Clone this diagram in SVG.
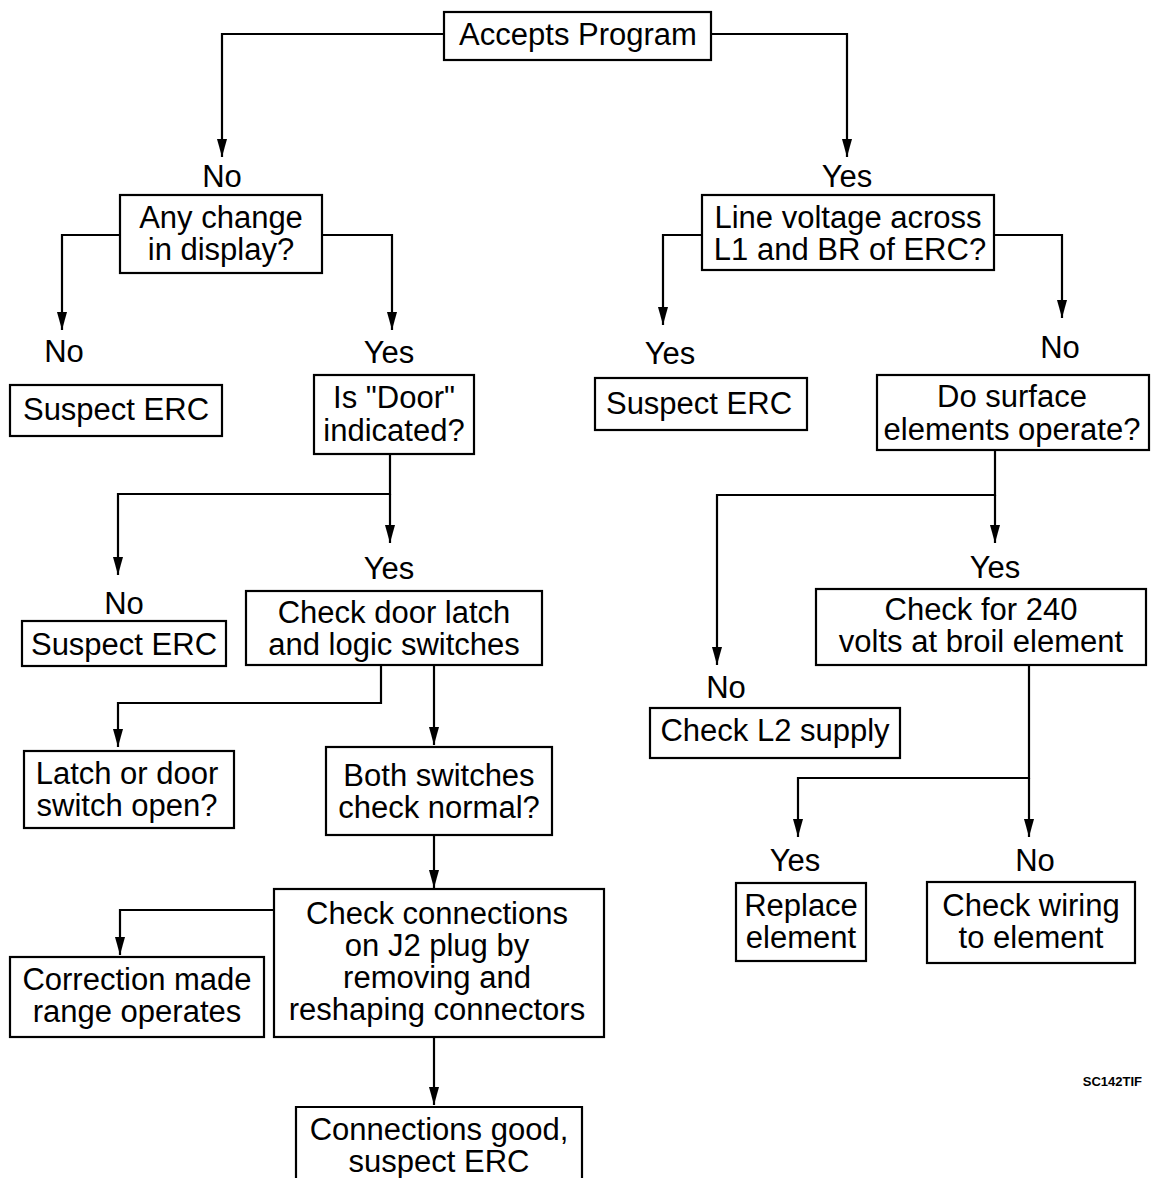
<svg xmlns="http://www.w3.org/2000/svg" width="1151" height="1178" viewBox="0 0 1151 1178">
<style>
.box{fill:#fff;stroke:#000;stroke-width:2.2}
.t{font-family:"Liberation Sans",Arial,Helvetica,sans-serif;font-size:31px;fill:#000;text-anchor:middle}
.lbl{font-family:"Liberation Sans",Arial,Helvetica,sans-serif;font-size:31px;fill:#000;text-anchor:middle}
.c{fill:none;stroke:#000;stroke-width:2.2;marker-end:url(#ah)}
.cn{fill:none;stroke:#000;stroke-width:2.2}
.code{font-family:"Liberation Sans",Arial,sans-serif;font-size:13px;font-weight:bold;fill:#000;text-anchor:end}
</style>
<defs>
<marker id="ah" viewBox="0 0 18 10" refX="18" refY="5" markerWidth="18" markerHeight="10" markerUnits="userSpaceOnUse" orient="auto">
<path d="M0,0 L18,5 L0,10 z" fill="#000"/>
</marker>
</defs>
<rect width="1151" height="1178" fill="#fff"/>
<g id="connectors">
<path class="c" d="M444,34 H222 V157"/>
<path class="c" d="M711,34 H847 V157"/>
<path class="c" d="M120,235 H62 V330"/>
<path class="c" d="M322,235 H392 V330"/>
<path class="c" d="M390,454 V494 H118 V575"/>
<path class="c" d="M390,494 V543"/>
<path class="c" d="M702,235 H663 V325"/>
<path class="c" d="M994,235 H1062 V318"/>
<path class="c" d="M995,450 V495 H717 V665"/>
<path class="c" d="M995,495 V543"/>
<path class="c" d="M381,665 V703 H118 V747"/>
<path class="c" d="M434,665 V745"/>
<path class="c" d="M434,835 V888"/>
<path class="c" d="M274,910 H120 V955"/>
<path class="c" d="M434,1037 V1105"/>
<path class="c" d="M1029,665 V778 H798 V837"/>
<path class="c" d="M1029,778 V837"/>
</g>
<g id="labels">
<text class="lbl" x="222" y="187">No</text>
<text class="lbl" x="847" y="187">Yes</text>
<text class="lbl" x="64" y="362">No</text>
<text class="lbl" x="389" y="363">Yes</text>
<text class="lbl" x="670" y="364">Yes</text>
<text class="lbl" x="1060" y="358">No</text>
<text class="lbl" x="124" y="614">No</text>
<text class="lbl" x="389" y="579">Yes</text>
<text class="lbl" x="995" y="578">Yes</text>
<text class="lbl" x="726" y="698">No</text>
<text class="lbl" x="795" y="871">Yes</text>
<text class="lbl" x="1035" y="871">No</text>
</g>
<g id="n-accepts">
<rect class="box" x="444" y="12" width="267" height="48"/>
<text class="t" x="578" y="45">Accepts Program</text>
</g>
<g id="n-anychange">
<rect class="box" x="120" y="195" width="202" height="78"/>
<text class="t" x="221" y="228">Any change</text>
<text class="t" x="221" y="260">in display?</text>
</g>
<g id="n-suspect1">
<rect class="box" x="10" y="385" width="212" height="51"/>
<text class="t" x="116" y="420">Suspect ERC</text>
</g>
<g id="n-door">
<rect class="box" x="314" y="375" width="160" height="79"/>
<text class="t" x="394" y="408">Is "Door"</text>
<text class="t" x="394" y="441">indicated?</text>
</g>
<g id="n-suspect2">
<rect class="box" x="22" y="621" width="204" height="45"/>
<text class="t" x="124" y="655">Suspect ERC</text>
</g>
<g id="n-checklatch">
<rect class="box" x="246" y="591" width="296" height="74"/>
<text class="t" x="394" y="623">Check door latch</text>
<text class="t" x="394" y="655">and logic switches</text>
</g>
<g id="n-latchopen">
<rect class="box" x="24" y="751" width="210" height="77"/>
<text class="t" x="127" y="784">Latch or door</text>
<text class="t" x="127" y="816">switch open?</text>
</g>
<g id="n-both">
<rect class="box" x="326" y="747" width="226" height="88"/>
<text class="t" x="439" y="786">Both switches</text>
<text class="t" x="439" y="818">check normal?</text>
</g>
<g id="n-checkconn">
<rect class="box" x="274" y="889" width="330" height="148"/>
<text class="t" x="437" y="924">Check connections</text>
<text class="t" x="437" y="956">on J2 plug by</text>
<text class="t" x="437" y="988">removing and</text>
<text class="t" x="437" y="1020">reshaping connectors</text>
</g>
<g id="n-correction">
<rect class="box" x="10" y="957" width="254" height="80"/>
<text class="t" x="137" y="990">Correction made</text>
<text class="t" x="137" y="1022">range operates</text>
</g>
<g id="n-conngood">
<path class="cn" d="M296,1180 V1107 H582 V1180"/>
<text class="t" x="439" y="1140">Connections good,</text>
<text class="t" x="439" y="1172">suspect ERC</text>
</g>
<g id="n-linevoltage">
<rect class="box" x="702" y="195" width="292" height="75"/>
<text class="t" x="848" y="228">Line voltage across</text>
<text class="t" x="850" y="260">L1 and BR of ERC?</text>
</g>
<g id="n-suspect3">
<rect class="box" x="595" y="378" width="212" height="52"/>
<text class="t" x="699" y="414">Suspect ERC</text>
</g>
<g id="n-surface">
<rect class="box" x="877" y="375" width="272" height="75"/>
<text class="t" x="1012" y="407">Do surface</text>
<text class="t" x="1012" y="440">elements operate?</text>
</g>
<g id="n-check240">
<rect class="box" x="816" y="589" width="330" height="76"/>
<text class="t" x="981" y="620">Check for 240</text>
<text class="t" x="981" y="652">volts at  broil element</text>
</g>
<g id="n-l2">
<rect class="box" x="650" y="708" width="250" height="50"/>
<text class="t" x="775" y="741">Check L2 supply</text>
</g>
<g id="n-replace">
<rect class="box" x="736" y="883" width="130" height="78"/>
<text class="t" x="801" y="916">Replace</text>
<text class="t" x="801" y="948">element</text>
</g>
<g id="n-wiring">
<rect class="box" x="927" y="882" width="208" height="81"/>
<text class="t" x="1031" y="916">Check wiring</text>
<text class="t" x="1031" y="948">to element</text>
</g>
<text class="code" x="1142" y="1086">SC142TIF</text>
</svg>
